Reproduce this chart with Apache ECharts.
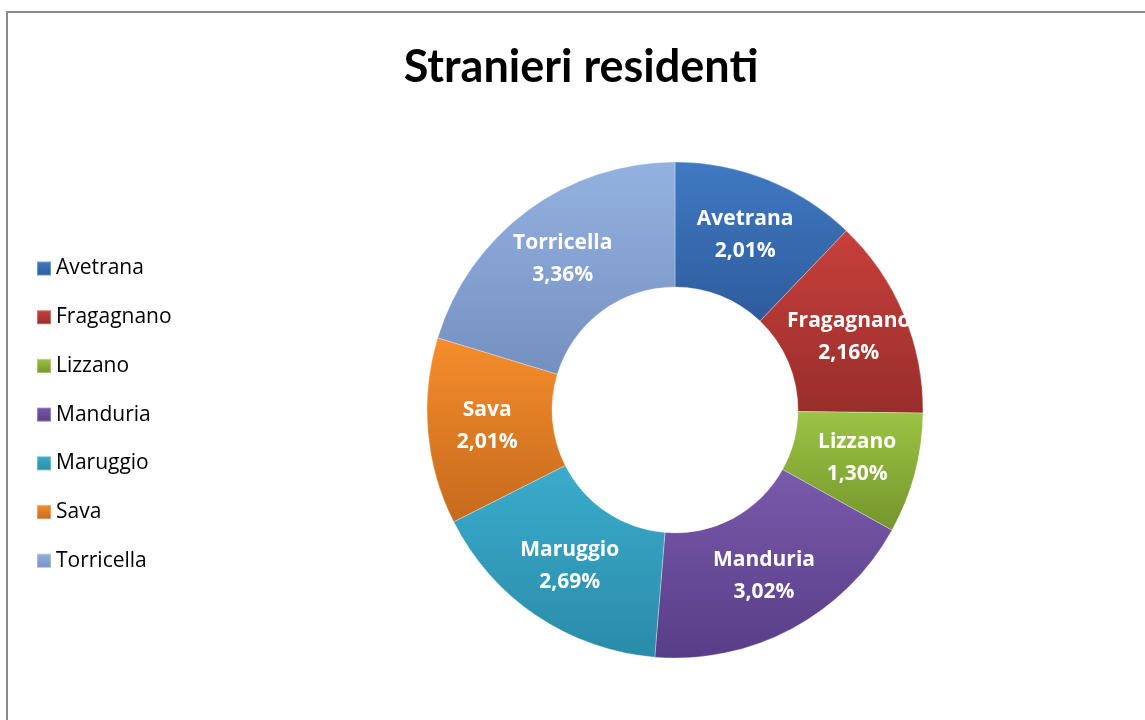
<!DOCTYPE html>
<html><head><meta charset="utf-8">
<script src="https://cdn.jsdelivr.net/npm/echarts@6/dist/echarts.min.js"></script>
<style>html,body{margin:0;padding:0;background:#fff}#c{width:1145px;height:720px}</style>
</head><body><div id="c"></div>
<script>
const titleText = 'Stranieri residenti';
const categories = ['Avetrana', 'Fragagnano', 'Lizzano', 'Manduria', 'Maruggio', 'Sava', 'Torricella'];
const values = [2.01, 2.16, 1.30, 3.02, 2.69, 2.01, 3.36];
const lightColors = ['#4079c2', '#c8403c', '#9cc444', '#7a5aab', '#3aaccc', '#f58d2c', '#94b2e0'];
const darkColors  = ['#2d5c9c', '#982d2a', '#74952c', '#573d87', '#2a8ba8', '#c66a1c', '#7490c2'];

const chart = echarts.init(document.getElementById('c'));
const data = categories.map((n, i) => ({
  name: n, value: values[i],
  itemStyle: {
    color: new echarts.graphic.LinearGradient(0, 0, 0, 1, [
      {offset: 0, color: lightColors[i]}, {offset: 1, color: darkColors[i]}
    ]),
    borderColor: 'rgba(255,255,255,0.3)', borderWidth: 1
  }
}));
chart.setOption({
  animation: false,
  title: {
    text: titleText, left: 576, top: 40, textAlign: 'center',
    textStyle: {fontFamily: 'Lato', fontWeight: 'bold', fontSize: 45, color: '#000'}
  },
  legend: {
    orient: 'vertical', left: 36, top: 258, padding: 0, itemWidth: 14, itemHeight: 14, itemGap: 27.7,
    icon: 'rect',
    textStyle: {fontFamily: 'Open Sans', fontSize: 21, lineHeight: 20, color: '#000'},
    data: categories
  },
  graphic: [{
    type: 'rect', shape: {x: 7, y: 12, width: 1200, height: 800},
    style: {fill: 'none', stroke: '#8a8a8a', lineWidth: 2}, silent: true
  }],
  series: [{
    type: 'pie', center: [675, 410], radius: [123, 248], startAngle: 90, clockwise: true,
    label: {
      show: true, position: 'inside', color: '#fff', fontFamily: 'Open Sans', fontWeight: 'bold',
      fontSize: 21, lineHeight: 32, padding: [10, 0, 0, 0],
      formatter: p => p.name + '\n' + p.value.toFixed(2).replace('.', ',') + '%'
    },
    labelLine: {show: false},
    data: data
  }]
});
</script></body></html>
